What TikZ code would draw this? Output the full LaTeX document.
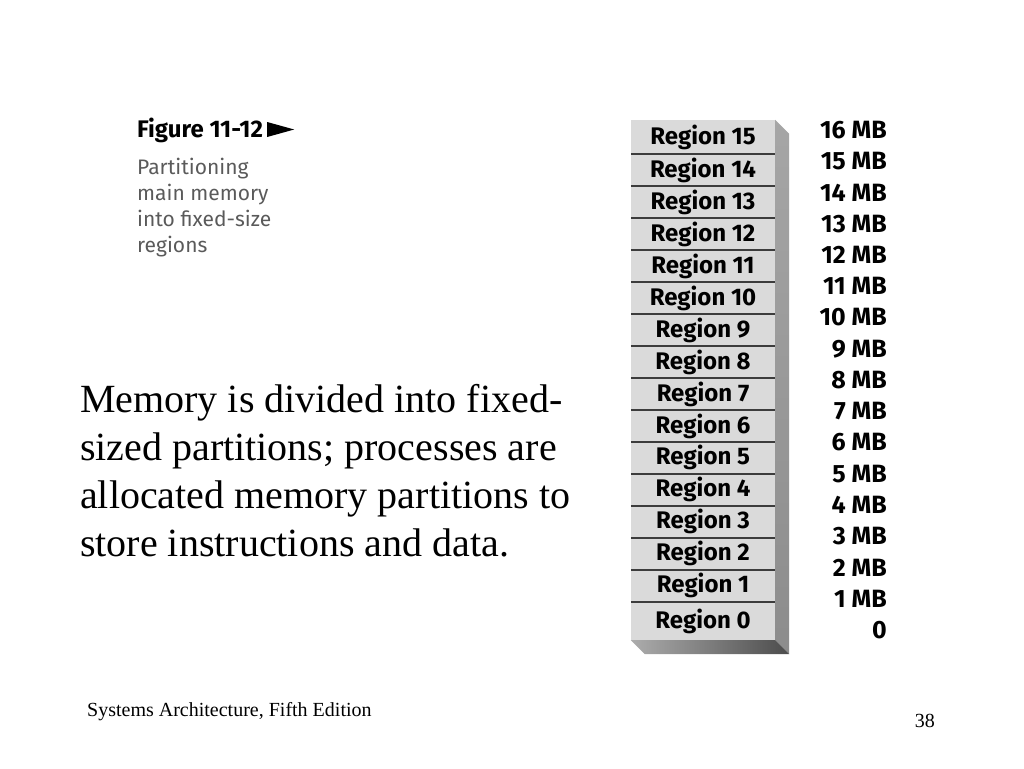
\documentclass[tikz,border=0pt]{standalone}
\usepackage{fontspec}
\setmainfont{Liberation Serif}
\newfontfamily\figfont{Fira Sans}
\usetikzlibrary{positioning}

\definecolor{regfill}{HTML}{DADADA}
\definecolor{sepgray}{HTML}{3C3C3C}
\definecolor{capgray}{HTML}{5A5A5A}

\begin{document}
\begin{tikzpicture}[
		x=1pt, y=-1pt,
		every node/.style={inner sep=0pt},
		regionbox/.style={rectangle, fill=regfill, minimum width=144pt, minimum height=31.57pt,
			font=\figfont\bfseries\fontsize{24}{28}\selectfont},
		sizelabel/.style={anchor=east, font=\figfont\bfseries\fontsize{25}{29}\selectfont},
		sepline/.style={draw=sepgray, line width=2pt}
	]
  \useasboundingbox (0,0) rectangle (1024,768);

  % caption
  \node (figtitle) [anchor=base west, font=\figfont\bfseries\fontsize{24}{28}\selectfont] at (137,137) {Figure 11-12};
  \fill ([xshift=4pt]figtitle.base east) -- ++(0,-15) -- ++(27,7.5) -- cycle;
  \node (figcap) [anchor=north west, align=left, text=capgray, font=\figfont\fontsize{21}{26}\selectfont] at (137,158)
    {Partitioning\\main memory\\into fixed-size\\regions};

  % memory stack
  \node (r15) [regionbox, minimum height=34pt] at (703,137) {Region 15};
  \node (r14) [regionbox, below=0pt of r15] {Region 14};
  \node (r13) [regionbox, below=0pt of r14] {Region 13};
  \node (r12) [regionbox, below=0pt of r13] {Region 12};
  \node (r11) [regionbox, below=0pt of r12] {Region 11};
  \node (r10) [regionbox, below=0pt of r11] {Region 10};
  \node (r9) [regionbox, below=0pt of r10] {Region 9};
  \node (r8) [regionbox, below=0pt of r9] {Region 8};
  \node (r7) [regionbox, below=0pt of r8] {Region 7};
  \node (r6) [regionbox, below=0pt of r7] {Region 6};
  \node (r5) [regionbox, below=0pt of r6] {Region 5};
  \node (r4) [regionbox, below=0pt of r5] {Region 4};
  \node (r3) [regionbox, below=0pt of r4] {Region 3};
  \node (r2) [regionbox, below=0pt of r3] {Region 2};
  \node (r1) [regionbox, below=0pt of r2] {Region 1};
  \node (r0) [regionbox, below=0pt of r1, minimum height=38pt] {Region 0};

  % 3d faces
  \shade[top color=gray!70, bottom color=gray!110!black] (r15.north east) -- ++(14,14)
    -- ([shift={(14,14)}]r0.south east) -- (r0.south east) -- cycle;
  \shade[left color=gray!65, right color=black!70] (r0.south west) -- (r0.south east)
    -- ([shift={(14,14)}]r0.south east) -- ([shift={(14,14)}]r0.south west) -- cycle;

  \draw[sepline] (r14.north west) -- (r14.north east);
  \draw[sepline] (r13.north west) -- (r13.north east);
  \draw[sepline] (r12.north west) -- (r12.north east);
  \draw[sepline] (r11.north west) -- (r11.north east);
  \draw[sepline] (r10.north west) -- (r10.north east);
  \draw[sepline] (r9.north west) -- (r9.north east);
  \draw[sepline] (r8.north west) -- (r8.north east);
  \draw[sepline] (r7.north west) -- (r7.north east);
  \draw[sepline] (r6.north west) -- (r6.north east);
  \draw[sepline] (r5.north west) -- (r5.north east);
  \draw[sepline] (r4.north west) -- (r4.north east);
  \draw[sepline] (r3.north west) -- (r3.north east);
  \draw[sepline] (r2.north west) -- (r2.north east);
  \draw[sepline] (r1.north west) -- (r1.north east);
  \draw[sepline] (r0.north west) -- (r0.north east);

  % boundaries
  \node (m16) [sizelabel] at (887,130) {16 MB};
  \node (m15) [sizelabel] at (887,161.25) {15 MB};
  \node (m14) [sizelabel] at (887,192.5) {14 MB};
  \node (m13) [sizelabel] at (887,223.75) {13 MB};
  \node (m12) [sizelabel] at (887,255) {12 MB};
  \node (m11) [sizelabel] at (887,286.25) {11 MB};
  \node (m10) [sizelabel] at (887,317.5) {10 MB};
  \node (m9) [sizelabel] at (887,348.75) {9 MB};
  \node (m8) [sizelabel] at (887,380) {8 MB};
  \node (m7) [sizelabel] at (887,411.25) {7 MB};
  \node (m6) [sizelabel] at (887,442.5) {6 MB};
  \node (m5) [sizelabel] at (887,473.75) {5 MB};
  \node (m4) [sizelabel] at (887,505) {4 MB};
  \node (m3) [sizelabel] at (887,536.25) {3 MB};
  \node (m2) [sizelabel] at (887,567.5) {2 MB};
  \node (m1) [sizelabel] at (887,598.75) {1 MB};
  \node (m0) [sizelabel] at (887,630) {0};

  % slide text
  \node (body) [anchor=north west, align=left, font=\fontsize{40}{48}\selectfont] at (80,384)
    {Memory is divided into fixed-\\sized partitions; processes are\\allocated memory partitions to\\store instructions and data.};
  \node (foot) [anchor=base west, font=\fontsize{20}{24}\selectfont] at (87,716) {Systems Architecture, Fifth Edition};
  \node (page) [anchor=base east, font=\fontsize{20}{24}\selectfont] at (935,727) {38};
\end{tikzpicture}
\end{document}
